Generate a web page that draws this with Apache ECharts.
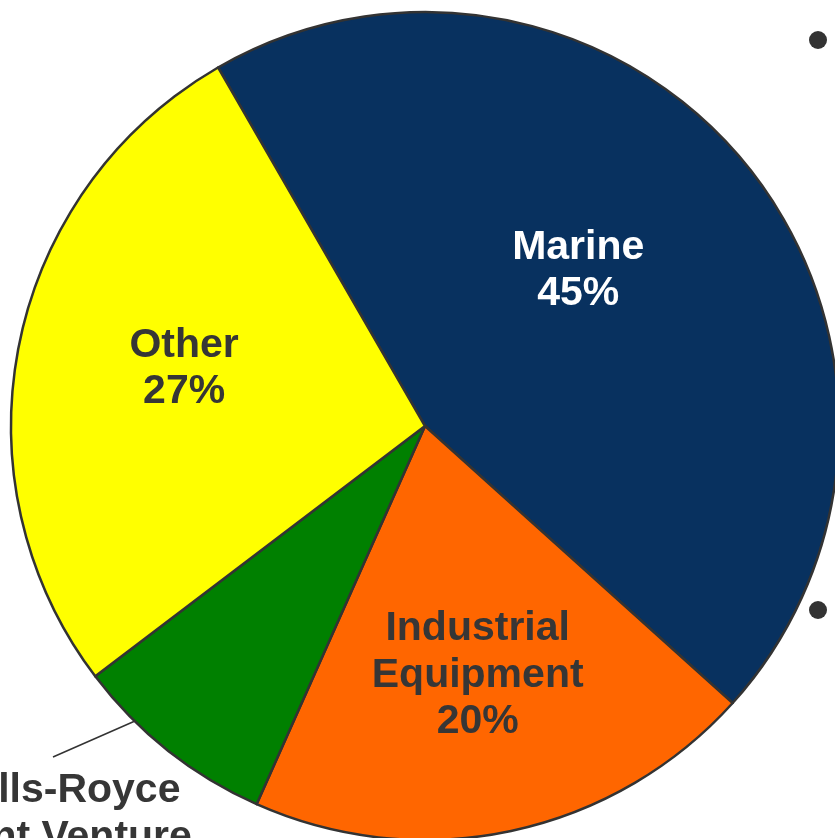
<!DOCTYPE html>
<html>
<head>
<meta charset="utf-8">
<script src="https://cdn.jsdelivr.net/npm/echarts@6/dist/echarts.min.js"></script>
<style>
html,body{margin:0;padding:0;background:#fff;}
#c{width:835px;height:838px;}
</style>
</head>
<body>
<div id="c"></div>
<script>
// Data
var categories = ['Marine', 'Industrial\nEquipment', 'Rolls-Royce\nJoint Venture', 'Other'];
var shares = [45, 20, 8, 27];
var colors = ['#08315F', '#FF6600', '#008000', '#FFFF00'];
var labelColors = ['#FFFFFF', '#363636', '#363636', '#363636'];
var labelOffsets = [[-10, -23], [9, 44], [0, 0], [-35, -16]];
var showPct = [true, true, false, true];

var data = categories.map(function (c, i) {
  var item = {
    name: c,
    value: shares[i],
    itemStyle: { color: colors[i] },
    label: {
      color: labelColors[i],
      offset: labelOffsets[i],
      formatter: showPct[i] ? '{b}\n{c}%' : '{b}'
    }
  };
  if (i === 2) {
    item.label.position = 'outside';
    item.labelLine = { show: true };
  }
  return item;
});

var chart = echarts.init(document.getElementById('c'), null, { renderer: 'canvas' });
chart.setOption({
  animation: false,
  backgroundColor: '#ffffff',
  graphic: [
    { type: 'circle', shape: { cx: 818, cy: 40, r: 9 }, style: { fill: '#333333' } },
    { type: 'circle', shape: { cx: 818, cy: 610, r: 9 }, style: { fill: '#333333' } }
  ],
  series: [{
    type: 'pie',
    center: [425, 426],
    radius: [0, 414],
    startAngle: 120,
    clockwise: true,
    avoidLabelOverlap: false,
    emphasis: { disabled: true },
    itemStyle: { borderColor: '#333333', borderWidth: 2.5 },
    label: {
      show: true,
      position: 'inside',
      fontFamily: 'Liberation Sans, Arial, sans-serif',
      fontWeight: 'bold',
      fontSize: 41,
      lineHeight: 46.5,
      align: 'center'
    },
    labelLine: { show: false, lineStyle: { color: '#333333', width: 1.5 } },
    labelLayout: function (p) {
      if (p.dataIndex === 2) {
        return {
          x: 62, y: 814, align: 'center', verticalAlign: 'middle',
          labelLinePoints: [[135, 721], [94, 739], [53, 757]]
        };
      }
      return {};
    },
    data: data
  }]
});
</script>
</body>
</html>
